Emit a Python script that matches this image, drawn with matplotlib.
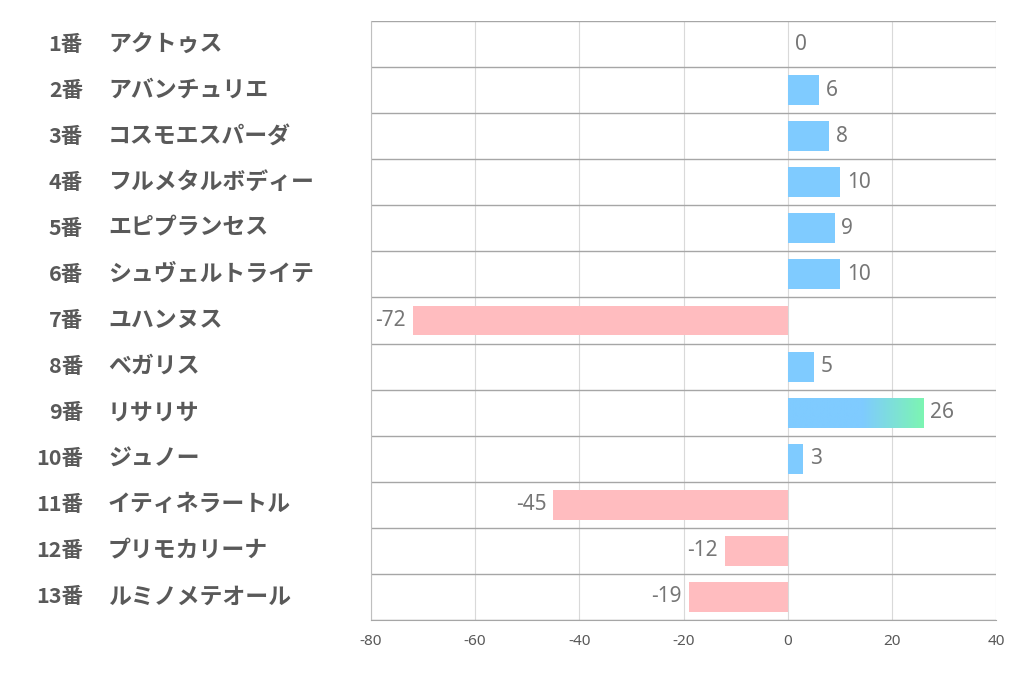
import matplotlib
matplotlib.use("Agg")
import matplotlib.pyplot as plt
import numpy as np
from matplotlib.colors import LinearSegmentedColormap

plt.rcParams["font.family"] = ["Noto Sans CJK JP", "DejaVu Sans"]

numbers = ["1番", "2番", "3番", "4番", "5番", "6番", "7番", "8番", "9番", "10番", "11番", "12番", "13番"]
names = ["アクトゥス", "アバンチュリエ", "コスモエスパーダ", "フルメタルボディー", "エピプランセス",
         "シュヴェルトライテ", "ユハンヌス", "ベガリス", "リサリサ", "ジュノー",
         "イティネラートル", "プリモカリーナ", "ルミノメテオール"]
values = [0, 6, 8, 10, 9, 10, -72, 5, 26, 3, -45, -12, -19]
x_ticks = [-80, -60, -40, -20, 0, 20, 40]

BLUE = "#7fcbff"
PINK = "#ffbcbf"
GREEN = "#7cf5b2"
TEXT = "#595959"
BAR_H = 0.65

fig = plt.figure(figsize=(10.22, 6.78), dpi=100)
ax = fig.add_axes([371 / 1022, 1 - 620 / 678, 625 / 1022, 599 / 678])

ypos = np.arange(len(values))
top_value = max(values)
for y, v in zip(ypos, values):
    if v == top_value:
        cmap = LinearSegmentedColormap.from_list("g", [(0, BLUE), (0.55, BLUE), (1, GREEN)])
        grad = np.linspace(0, 1, 256).reshape(1, -1)
        ax.imshow(grad, cmap=cmap, aspect="auto", extent=(0, v, y + BAR_H / 2, y - BAR_H / 2), zorder=2)
    elif v > 0:
        ax.barh(y, v, height=BAR_H, color=BLUE, zorder=2)
    elif v < 0:
        ax.barh(y, v, height=BAR_H, color=PINK, zorder=2)

    if v >= 0:
        ax.annotate(str(v), (v, y), xytext=(5, 0), textcoords="offset points",
                    ha="left", va="center", fontsize=15, color="#767676", family=["Noto Sans", "DejaVu Sans"])
    else:
        ax.annotate(str(v), (v, y), xytext=(-5, 0), textcoords="offset points",
                    ha="right", va="center", fontsize=15, color="#767676", family=["Noto Sans", "DejaVu Sans"])

ax.set_xlim(-80, 40)
ax.set_ylim(len(values) - 0.5, -0.5)
ax.set_xticks(x_ticks)
ax.set_xticklabels([str(t) for t in x_ticks], fontsize=11, color=TEXT, family=["Noto Sans", "DejaVu Sans"])
ax.set_yticks([])
ax.tick_params(axis="x", length=0, pad=10)
for t in x_ticks:
    ax.axvline(t, color="#d9d9d9", lw=0.8, zorder=1)
for b in np.arange(-0.5, len(values), 1.0):
    ax.axhline(b, color="#a6a6a6", lw=1.0, zorder=1)
for side in ["top", "right"]:
    ax.spines[side].set_visible(False)
ax.spines["left"].set_color("#bfbfbf")
ax.spines["bottom"].set_color("#a6a6a6")

for y, num, name in zip(ypos, numbers, names):
    ax.annotate(num, (0, y), xycoords=("figure pixels", "data"), xytext=(83, 0),
                textcoords="offset pixels", ha="right", va="center", fontsize=15.5,
                fontweight="bold", color=TEXT)
    ax.annotate(name, (0, y), xycoords=("figure pixels", "data"), xytext=(108, 0),
                textcoords="offset pixels", ha="left", va="center", fontsize=16.5,
                fontweight="bold", color=TEXT)

fig.savefig("out.png", dpi=100, facecolor="white")
